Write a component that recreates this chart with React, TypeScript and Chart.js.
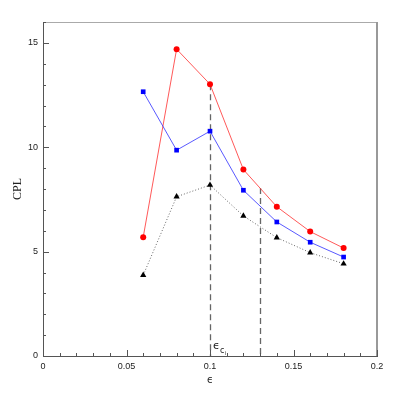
import React, { useEffect, useRef } from "react";
import { Chart, registerables } from "chart.js";

Chart.register(...registerables);

const epsValues = [0.06, 0.08, 0.1, 0.12, 0.14, 0.16, 0.18];
const redSeries = [5.69, 14.7, 13.02, 8.93, 7.15, 5.96, 5.17];
const blueSeries = [12.66, 9.86, 10.77, 7.94, 6.42, 5.45, 4.74];
const blackSeries = [3.87, 7.63, 8.19, 6.71, 5.67, 4.95, 4.42];
const markerX = [0.1, 0.13];
const markerTop = [13.02, 8.05];
const xMajorTicks = [0, 0.05, 0.1, 0.15, 0.2];
const yMajorTicks = [0, 5, 10, 15];

const toPoints = (ys: number[]) => ys.map((y, i) => ({ x: epsValues[i], y }));

const decorPlugin = {
  id: "decor",
  beforeDatasetsDraw(chart: any) {
    const { ctx, scales } = chart;
    const xs = scales.x;
    const ys = scales.y;
    ctx.save();
    ctx.strokeStyle = "#666";
    ctx.lineWidth = 1.3;
    ctx.setLineDash([6, 4]);
    markerX.forEach((mx, i) => {
      const px = Math.round(xs.getPixelForValue(mx)) + 0.5;
      ctx.beginPath();
      ctx.moveTo(px, ys.getPixelForValue(markerTop[i]));
      ctx.lineTo(px, ys.getPixelForValue(0));
      ctx.stroke();
    });
    ctx.restore();
  },
  afterDraw(chart: any) {
    const { ctx, scales, chartArea } = chart;
    const xs = scales.x;
    const ys = scales.y;
    ctx.save();
    ctx.strokeStyle = "#aaa";
    ctx.lineWidth = 1;
    ctx.beginPath();
    ctx.moveTo(chartArea.left, Math.round(chartArea.top) + 0.5);
    ctx.lineTo(chartArea.right, Math.round(chartArea.top) + 0.5);
    ctx.stroke();
    ctx.strokeStyle = "#999";
    ctx.lineWidth = 2;
    ctx.beginPath();
    ctx.moveTo(Math.round(chartArea.right), chartArea.top);
    ctx.lineTo(Math.round(chartArea.right), chartArea.bottom);
    ctx.stroke();
    ctx.strokeStyle = "#555";
    ctx.lineWidth = 1;
    const x0 = chartArea.left;
    const yb = chartArea.bottom;
    for (let k = 0; k <= 20; k++) {
      const v = k / 100;
      const px = Math.round(xs.getPixelForValue(v)) + 0.5;
      const len = k % 5 === 0 ? 6 : 3;
      ctx.beginPath();
      ctx.moveTo(px, yb);
      ctx.lineTo(px, yb - len);
      ctx.stroke();
    }
    for (let k = 0; k <= 16; k++) {
      const py = Math.round(ys.getPixelForValue(k)) + 0.5;
      const len = k % 5 === 0 ? 6 : 3;
      ctx.beginPath();
      ctx.moveTo(x0, py);
      ctx.lineTo(x0 + len, py);
      ctx.stroke();
    }
    ctx.fillStyle = "#222";
    ctx.textAlign = "center";
    ctx.textBaseline = "middle";
    ctx.font = "10px 'DejaVu Sans'";
    ctx.fillText("ϵ", (chartArea.left + chartArea.right) / 2, 380);
    ctx.save();
    ctx.translate(18, (chartArea.top + chartArea.bottom) / 2);
    ctx.rotate(-Math.PI / 2);
    ctx.font = "12px 'Liberation Serif'";
    ctx.fillText("CPL", 0, 0);
    ctx.restore();
    const lx = xs.getPixelForValue(markerX[0]);
    ctx.textAlign = "left";
    ctx.font = "11px 'DejaVu Sans'";
    ctx.fillText("ϵ", lx + 3, 346);
    ctx.font = "8px 'DejaVu Sans'";
    ctx.fillText("c", lx + 10, 351);
    ctx.font = "5px 'DejaVu Sans'";
    ctx.fillText("l", lx + 15, 354);
    ctx.restore();
  },
};

export default function App() {
  const ref = useRef<HTMLCanvasElement | null>(null);
  useEffect(() => {
    if (!ref.current) return;
    const chart = new Chart(ref.current, {
      type: "line",
      data: {
        datasets: [
          {
            data: toPoints(blackSeries),
            borderColor: "#666",
            borderWidth: 1,
            borderDash: [1, 2],
            pointStyle: "triangle",
            pointRadius: 3.6,
            pointBackgroundColor: "#000",
            pointBorderColor: "#000",
            pointBorderWidth: 0,
            fill: false,
          },
          {
            data: toPoints(blueSeries),
            borderColor: "rgba(60,60,255,0.85)",
            borderWidth: 1,
            pointStyle: "rect",
            pointRadius: 3.3,
            pointBackgroundColor: "#0000ff",
            pointBorderColor: "#0000ff",
            pointBorderWidth: 0,
            fill: false,
          },
          {
            data: toPoints(redSeries),
            borderColor: "rgba(255,60,60,0.85)",
            borderWidth: 1,
            pointStyle: "circle",
            pointRadius: 3,
            pointBackgroundColor: "#ff0000",
            pointBorderColor: "#ff0000",
            pointBorderWidth: 0,
            fill: false,
          },
        ],
      },
      options: {
        responsive: false,
        animation: false,
        events: [],
        layout: { padding: { top: 22, right: 22, left: 0, bottom: 0 } },
        plugins: { legend: { display: false }, tooltip: { enabled: false } },
        scales: {
          x: {
            type: "linear",
            min: 0,
            max: 0.2,
            grid: { display: false, drawTicks: false },
            border: { display: true, color: "#555", width: 1 },
            afterFit: (s: any) => {
              s.height = 43;
            },
            afterBuildTicks: (s: any) => {
              s.ticks = xMajorTicks.map((v) => ({ value: v }));
            },
            ticks: {
              padding: 5,
              maxRotation: 0,
              color: "#222",
              font: { family: "'Liberation Sans'", size: 9 },
              callback: (v: any) => String(Number(v)),
            },
          },
          y: {
            type: "linear",
            min: 0,
            max: 16,
            grid: { display: false, drawTicks: false },
            border: { display: true, color: "#555", width: 1 },
            afterFit: (s: any) => {
              s.width = 43;
            },
            afterBuildTicks: (s: any) => {
              s.ticks = yMajorTicks.map((v) => ({ value: v }));
            },
            ticks: {
              padding: 5,
              color: "#222",
              font: { family: "'Liberation Sans'", size: 9 },
              callback: (v: any) => String(v),
            },
          },
        },
      },
      plugins: [decorPlugin],
    });
    return () => chart.destroy();
  }, []);
  return (
    <div style={{ position: "fixed", left: 0, top: 0, width: 399, height: 399, background: "#fff" }}>
      <canvas ref={ref} width={399} height={399} style={{ display: "block" }} />
    </div>
  );
}
